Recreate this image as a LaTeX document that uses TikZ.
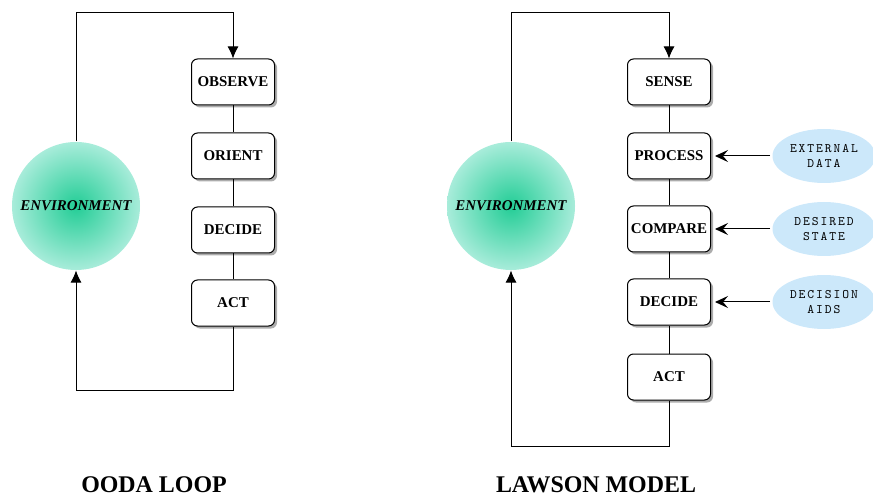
\documentclass[tikz,border=0pt]{standalone}
\usepackage{fontspec}
\setmainfont{Liberation Serif}
\newfontfamily\notefont[Extension=.otf,LetterSpace=15]{lmmono10-regular}
\usetikzlibrary{arrows.meta,shapes.geometric,shadows}
\definecolor{envin}{RGB}{35,205,150}
\definecolor{envout}{RGB}{168,236,218}
\definecolor{notefill}{RGB}{204,232,250}

\begin{document}
\begin{tikzpicture}[x=1bp,y=-1bp,line width=1bp]
\tikzstyle{stage}=[draw,rounded corners=6bp,fill=white,minimum width=83bp,minimum height=46bp,inner sep=0pt,drop shadow={shadow xshift=2.5bp,shadow yshift=-2.5bp,opacity=.65},font=\fontsize{15}{18}\selectfont\bfseries]
\tikzstyle{env}=[circle,minimum size=128bp,inner sep=0pt,shading=radial,inner color=envin,outer color=envout,font=\fontsize{15}{18}\selectfont\bfseries\itshape]
\tikzstyle{note}=[ellipse,minimum width=103bp,minimum height=54bp,inner sep=0pt,fill=notefill,align=center,font=\notefont\fontsize{13}{15}\selectfont]
\tikzstyle{title}=[font=\fontsize{24}{28}\selectfont\bfseries]
\tikzstyle{loopline}=[-{Latex[length=12bp,width=11bp]}]
\tikzstyle{feed}=[-{Stealth[length=13bp,width=12bp,inset=5bp]},shorten >=4bp,shorten <=2bp]
\useasboundingbox (0,0) rectangle (873,497);
% OODA loop
\draw (76,206) node (env1) [env] {ENVIRONMENT};
\draw (233,82) node (o1) [stage] {OBSERVE};
\draw (233,156) node (o2) [stage] {ORIENT};
\draw (233,230) node (o3) [stage] {DECIDE};
\draw (233,303) node (o4) [stage] {ACT};
\coordinate (t1) at (76,13);
\coordinate (b1) at (233,390);
\draw[loopline] (env1) -- (t1) -| (o1);
\draw (o1) -- (o2);
\draw (o2) -- (o3);
\draw (o3) -- (o4);
\draw[loopline] (o4) -- (b1) -| (env1);
\node (title1) at (154,485) [title] {OODA LOOP};
% Lawson model
\draw (511,206) node (env2) [env] {ENVIRONMENT};
\draw (669,82) node (l1) [stage] {SENSE};
\draw (669,156) node (l2) [stage] {PROCESS};
\draw (669,229) node (l3) [stage] {COMPARE};
\draw (669,302) node (l4) [stage] {DECIDE};
\draw (669,377) node (l5) [stage] {ACT};
\draw (824,156) node (e1) [note] {EXTERNAL\\DATA};
\draw (824,229) node (e2) [note] {DESIRED\\STATE};
\draw (824,302) node (e3) [note] {DECISION\\AIDS};
\coordinate (t2) at (511,13);
\coordinate (b2) at (669,446);
\draw[loopline] (env2) -- (t2) -| (l1);
\draw (l1) -- (l2);
\draw (l2) -- (l3);
\draw (l3) -- (l4);
\draw (l4) -- (l5);
\draw[loopline] (l5) -- (b2) -| (env2);
\draw[feed] (e1) -- (l2);
\draw[feed] (e2) -- (l3);
\draw[feed] (e3) -- (l4);
\node (title2) at (596,485) [title] {LAWSON MODEL};
\end{tikzpicture}
\end{document}
